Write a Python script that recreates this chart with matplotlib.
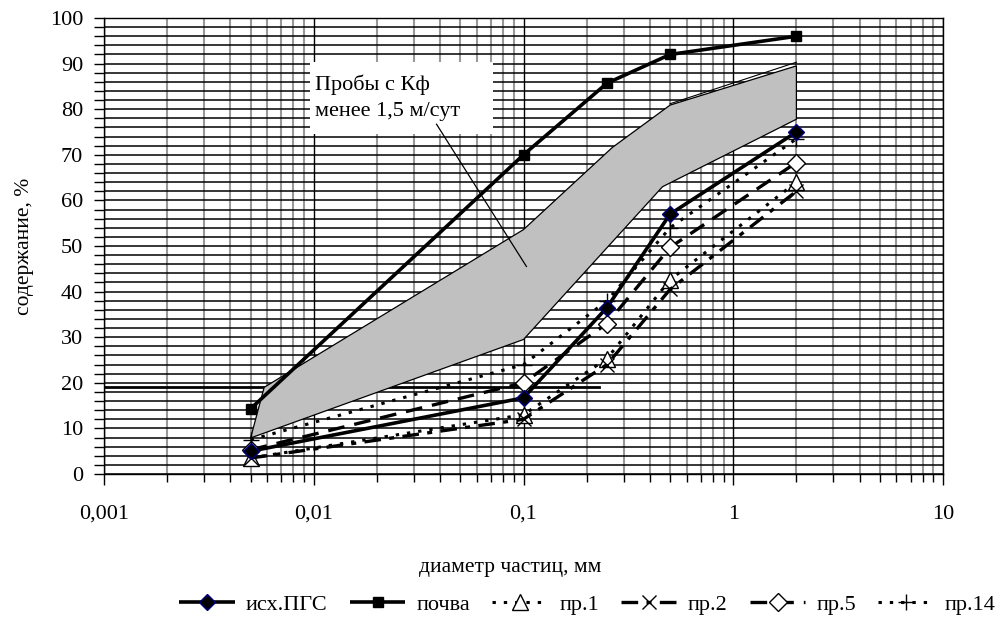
import matplotlib
matplotlib.use("Agg")
import matplotlib.pyplot as plt
from matplotlib.patches import Polygon, Rectangle
from matplotlib.ticker import FixedLocator, NullFormatter, MultipleLocator
import numpy as np

plt.rcParams['font.family'] = ['Liberation Serif', 'DejaVu Serif']

# ---- data ----
diam = [0.005, 0.1, 0.25, 0.5, 2]
ish_pgs = [5, 16.7, 36.5, 57, 75]
pochva = [14.3, 70, 85.7, 92, 96]
pr1 = [3.5, 13, 25.3, 42.6, 64]
pr2 = [3.5, 12, 24, 40.5, 62]
pr5 = [5.3, 20, 33, 49.7, 68.3]
pr14 = [7.5, 24, 38, 54, 73.5]

band_up_x = [0.0058, 0.1, 0.265, 0.5, 2]
band_up_y = [19, 53.6, 71.6, 80.9, 89.5]
band_lo_x = [0.005, 0.1, 0.46, 2]
band_lo_y = [7.9, 29.5, 63, 77.8]
band_up2_x = [0.5, 2]
band_up2_y = [81.2, 90.3]

hline_y = 19.1
hline_x = [0.001, 0.23]

xticks = [0.001, 0.01, 0.1, 1, 10]
xticklabels = ['0,001', '0,01', '0,1', '1', '10']

note_text = 'Пробы с Кф\nменее 1,5 м/сут'

fig = plt.figure(figsize=(10.08, 6.27), dpi=100)
ax = fig.add_axes([104/1008, 1-474/627, (943-104)/1008, (474-18)/627])
ax.set_xscale('log')
ax.set_xlim(0.001, 10)
ax.set_ylim(0, 100)

# grid
minors = [m * 10.0**e for e in range(-3, 1) for m in range(2, 10)]
ax.xaxis.set_major_locator(FixedLocator(xticks))
ax.xaxis.set_minor_locator(FixedLocator(minors))
ax.xaxis.set_minor_formatter(NullFormatter())
ax.set_xticklabels(xticklabels)
ax.yaxis.set_major_locator(MultipleLocator(10))
ax.yaxis.set_minor_locator(MultipleLocator(2))
ax.grid(which='major', axis='x', color='black', lw=1.0, zorder=0)
ax.grid(which='minor', axis='x', color='#999999', lw=1.5, zorder=0)
ax.grid(which='both', axis='y', color='black', lw=1.1, zorder=0)
ax.set_axisbelow(True)

ax.tick_params(axis='both', which='major', labelsize=16, direction='out', length=7, width=1, color='black')
ax.tick_params(axis='y', which='minor', direction='out', length=7, width=1)
ax.tick_params(axis='x', which='minor', direction='out', length=6, width=1)
ax.tick_params(axis='x', which='major', length=8, pad=14)
ax.tick_params(axis='y', which='major', pad=8)
for s in ax.spines.values():
    s.set_color('black')
    s.set_linewidth(1)

# stray horizontal line
ax.plot(hline_x, [hline_y, hline_y], color='black', lw=2, zorder=1.5)

# band
poly_pts = list(zip(band_up_x, band_up_y)) + list(zip(band_lo_x, band_lo_y))[::-1]
ax.add_patch(Polygon(poly_pts, closed=True, facecolor='#c0c0c0', edgecolor='black', lw=0.9, zorder=2))
ax.plot(band_up2_x, band_up2_y, color='black', lw=0.8, zorder=2.1)

# annotation box
ax.add_patch(Rectangle((0.00957, 74.5), 0.0712 - 0.00957, 90.3 - 74.5, facecolor='white', edgecolor='none', zorder=2.2))
ax.text(0.0101, 82.5, note_text, fontsize=16, ha='left', va='center', linespacing=1.45, zorder=2.3)
ax.plot([0.0385, 0.1033], [76.7, 45.5], color='black', lw=0.9, zorder=2.3)

dot = (0, (1.1, 2.6))
lines = []
l, = ax.plot(diam, ish_pgs, color='black', lw=2.6, marker='D', ms=8.5, mfc='black', mec='#000080', mew=1, label='исх.ПГС', zorder=5)
lines.append(l)
l, = ax.plot(diam, pochva, color='black', lw=2.6, marker='s', ms=7, mfc='black', mec='black', label='почва', zorder=5)
lines.append(l)
l, = ax.plot(diam, pr1, color='black', lw=2.2, ls=dot, marker='^', ms=11, mfc='white', mec='black', mew=1, label='пр.1', zorder=4)
lines.append(l)
l, = ax.plot(diam, pr2, color='black', lw=2.4, ls=(0, (5, 2.5, 1.5, 2.5)), marker='x', ms=10, mec='black', mew=1, label='пр.2', zorder=4)
lines.append(l)
l, = ax.plot(diam, pr5, color='black', lw=2.4, ls=(0, (5, 3)), marker='D', ms=9, mfc='white', mec='black', mew=1, label='пр.5', zorder=4)
lines.append(l)
l, = ax.plot(diam, pr14, color='black', lw=2.2, ls=dot, marker='+', ms=11, mec='black', mew=1, label='пр.14', zorder=4)
lines.append(l)
for ln in lines:
    ln.set_solid_capstyle('butt')
    ln.set_dash_capstyle('butt')

ax.set_ylabel('содержание, %', fontsize=15.5)
ax.set_xlabel('диаметр частиц, мм', fontsize=15.5)
ax.yaxis.set_label_coords(-0.083, 0.5)
ax.xaxis.set_label_coords(0.484, -0.185)

fig.legend(handles=lines, loc='center right', bbox_to_anchor=(0.988, 0.036), ncol=6, frameon=False,
           fontsize=16, handlelength=2.5, columnspacing=1.0, handletextpad=0.5,
           borderpad=0, borderaxespad=0)

fig.savefig('out.png', dpi=100)
